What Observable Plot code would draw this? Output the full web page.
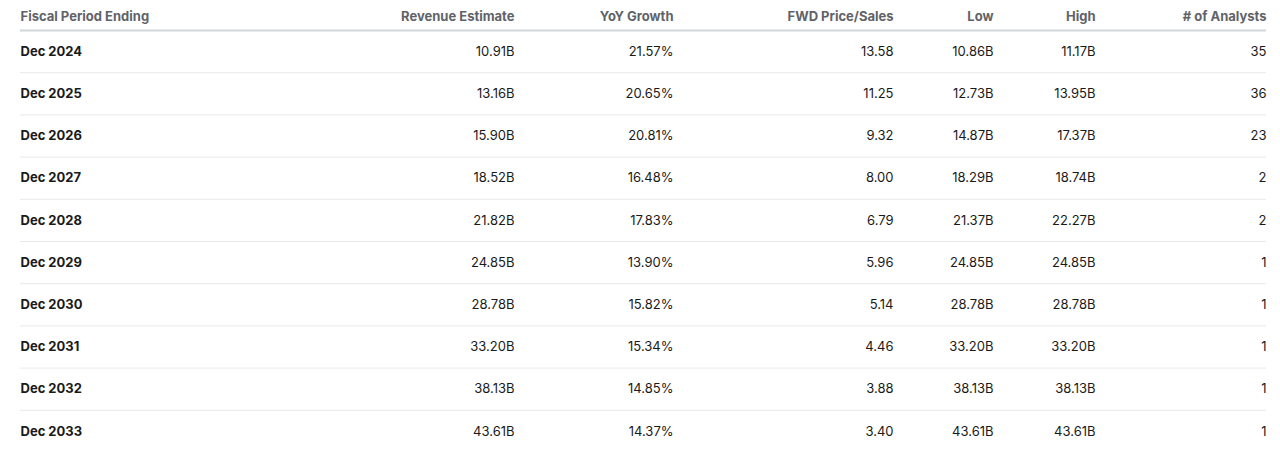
<!DOCTYPE html>
<html>
<head>
<meta charset="utf-8">
<script src="https://cdn.jsdelivr.net/npm/d3@7"></script>
<script src="https://cdn.jsdelivr.net/npm/@observablehq/plot@0.6"></script>
<style>
  html, body { margin: 0; padding: 0; background: #fff; }
  #chart svg { display: block; }
</style>
</head>
<body>
<div id="chart"></div>
<script>
// ---- data ----
const periods = ["Dec 2024","Dec 2025","Dec 2026","Dec 2027","Dec 2028","Dec 2029","Dec 2030","Dec 2031","Dec 2032","Dec 2033"];
const revenueEstimate = [10.91, 13.16, 15.90, 18.52, 21.82, 24.85, 28.78, 33.20, 38.13, 43.61];
const yoyGrowth = [21.57, 20.65, 20.81, 16.48, 17.83, 13.90, 15.82, 15.34, 14.85, 14.37];
const fwdPriceSales = [13.58, 11.25, 9.32, 8.00, 6.79, 5.96, 5.14, 4.46, 3.88, 3.40];
const low = [10.86, 12.73, 14.87, 18.29, 21.37, 24.85, 28.78, 33.20, 38.13, 43.61];
const high = [11.17, 13.95, 17.37, 18.74, 22.27, 24.85, 28.78, 33.20, 38.13, 43.61];
const analysts = [35, 36, 23, 2, 2, 1, 1, 1, 1, 1];
const headers = ["Fiscal Period Ending","Revenue Estimate","YoY Growth","FWD Price/Sales","Low","High","# of Analysts"];

// ---- table built from the arrays ----
const rows = periods.map((p, i) => ({
  idx: i,
  period: p,
  revenue: revenueEstimate[i],
  yoy: yoyGrowth[i],
  fwd: fwdPriceSales[i],
  low: low[i],
  high: high[i],
  analysts: analysts[i]
}));

const fmtB = v => v.toFixed(2) + "B";
const fmtPct = v => v.toFixed(2) + "%";
const fmt2 = v => v.toFixed(2);

// column layout (anchor position in table units, alignment, formatter)
const columns = [
  {header: headers[0], anchor: 0,    align: "start", value: d => d.period,  weight: 700},
  {header: headers[1], anchor: 494,  align: "end",   value: d => fmtB(d.revenue)},
  {header: headers[2], anchor: 653,  align: "end",   value: d => fmtPct(d.yoy)},
  {header: headers[3], anchor: 873,  align: "end",   value: d => fmt2(d.fwd)},
  {header: headers[4], anchor: 973,  align: "end",   value: d => fmtB(d.low)},
  {header: headers[5], anchor: 1075, align: "end",   value: d => fmtB(d.high)},
  {header: headers[6], anchor: 1246, align: "end",   value: d => String(d.analysts)}
];

const font = "Inter, 'Noto Sans', 'Liberation Sans', sans-serif";

const marks = [];
// header underline
marks.push(Plot.ruleY([0], {stroke: "#d3d6d9", strokeWidth: 2}));
// row separators
marks.push(Plot.ruleY(d3.range(1, periods.length), {stroke: "#e8e9ea", strokeWidth: 1}));
// header labels
columns.forEach(c => {
  marks.push(Plot.text([c.header], {
    x: () => c.anchor,
    frameAnchor: "top",
    lineAnchor: "middle",
    dy: -14,
    text: d => d,
    textAnchor: c.align,
    fill: "#5f6368",
    fontSize: 13,
    fontWeight: 700,
    fontFamily: font
  }));
});
// body cells
columns.forEach(c => {
  marks.push(Plot.text(rows, {
    x: () => c.anchor,
    y: d => d.idx + 0.5,
    text: c.value,
    textAnchor: c.align,
    fill: "#1a1a1a",
    fontSize: 13,
    fontWeight: c.weight || 400,
    fontFamily: font
  }));
});

const chart = Plot.plot({
  width: 1280,
  height: 465,
  marginLeft: 20,
  marginRight: 14,
  marginTop: 30,
  marginBottom: 13,
  style: {background: "#fff", fontFamily: font, overflow: "visible"},
  x: {domain: [0, 1246], axis: null},
  y: {domain: [0, periods.length], reverse: true, axis: null},
  marks
});
document.getElementById("chart").appendChild(chart);
</script>
</body>
</html>
